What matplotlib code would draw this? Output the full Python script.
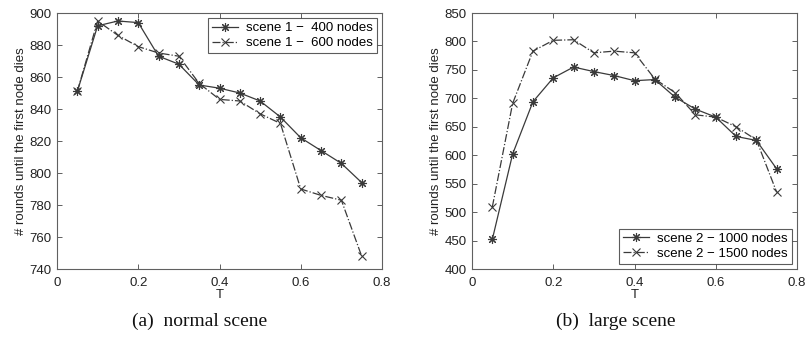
import matplotlib
matplotlib.use("Agg")
import matplotlib.pyplot as plt
import numpy as np

T = [0.05, 0.10, 0.15, 0.20, 0.25, 0.30, 0.35, 0.40, 0.45, 0.50, 0.55, 0.60, 0.65, 0.70, 0.75]

scene1_400 = [851, 892, 895, 894, 873, 868, 855, 853, 850, 845, 835, 822, 814, 806, 794]
scene1_600 = [851, 895, 886, 879, 875, 873, 856, 846, 845, 837, 831, 790, 786, 783, 748]

scene2_1000 = [452, 602, 694, 736, 755, 747, 740, 731, 733, 702, 681, 667, 633, 626, 576]
scene2_1500 = [509, 691, 783, 802, 803, 780, 783, 780, 734, 710, 671, 667, 650, 627, 535]

labels1 = ["scene 1 \u2212  400 nodes", "scene 1 \u2212  600 nodes"]
labels2 = ["scene 2 \u2212 1000 nodes", "scene 2 \u2212 1500 nodes"]
captions = ["(a)  normal scene", "(b)  large scene"]

plt.rcParams['font.family'] = ['Liberation Sans', 'DejaVu Sans']
line_c = '#3a3a3a'
axis_c = '#606060'
text_c = '#222222'

fig = plt.figure(figsize=(8.05, 3.43), dpi=100)
W, H = 805, 343
ax1 = fig.add_axes([57/W, 1-269/H, 325/W, 256/H])
ax2 = fig.add_axes([472/W, 1-269/H, 325/W, 256/H])

ast = (8, 2, 0)

def style(ax, ylim, yticks):
    ax.set_xlim(0, 0.8)
    ax.set_xticks([0, 0.2, 0.4, 0.6, 0.8])
    ax.set_xticklabels(['0', '0.2', '0.4', '0.6', '0.8'])
    ax.set_ylim(*ylim)
    ax.set_yticks(yticks)
    for s in ax.spines.values():
        s.set_color(axis_c)
        s.set_linewidth(0.8)
    ax.tick_params(direction='in', top=True, right=True, length=3.5, width=0.7,
                   color=axis_c, labelsize=9.5, labelcolor=text_c)
    ax.tick_params(axis='x', pad=6)
    ax.tick_params(axis='y', pad=4)
    ax.set_xlabel('T', fontsize=9.5, color=text_c, labelpad=0)
    ax.set_ylabel('# rounds until the first node dies', fontsize=9.5, color=text_c, labelpad=1.5)

ax1.plot(T, scene1_400, '-', color=line_c, lw=0.9, marker=ast, ms=6.5, mew=0.8, label=labels1[0])
ax1.plot(T, scene1_600, '-.', color=line_c, lw=0.9, marker='x', ms=5.5, mew=0.8, label=labels1[1])
style(ax1, (740, 900), np.arange(740, 901, 20))
leg1 = ax1.legend(loc='upper right', fontsize=9.5, frameon=True, fancybox=False,
                  edgecolor='#333333', borderpad=0.3, handlelength=2.0, handletextpad=0.6,
                  labelspacing=0.2, borderaxespad=0.4)
leg1.get_frame().set_linewidth(0.8)

ax2.plot(T, scene2_1000, '-', color=line_c, lw=0.9, marker=ast, ms=6.5, mew=0.8, label=labels2[0])
ax2.plot(T, scene2_1500, '-.', color=line_c, lw=0.9, marker='x', ms=5.5, mew=0.8, label=labels2[1])
style(ax2, (400, 850), np.arange(400, 851, 50))
leg2 = ax2.legend(loc='lower right', fontsize=9.5, frameon=True, fancybox=False,
                  edgecolor='#333333', borderpad=0.3, handlelength=2.0, handletextpad=0.6,
                  labelspacing=0.2, borderaxespad=0.4)
leg2.get_frame().set_linewidth(0.8)

fig.text(200/W, 1-321/H, captions[0], ha='center', va='center', fontsize=14,
         family=['Liberation Serif', 'DejaVu Serif'], color='#111111')
fig.text(616/W, 1-321/H, captions[1], ha='center', va='center', fontsize=14,
         family=['Liberation Serif', 'DejaVu Serif'], color='#111111')

fig.savefig('out.png', dpi=100)
